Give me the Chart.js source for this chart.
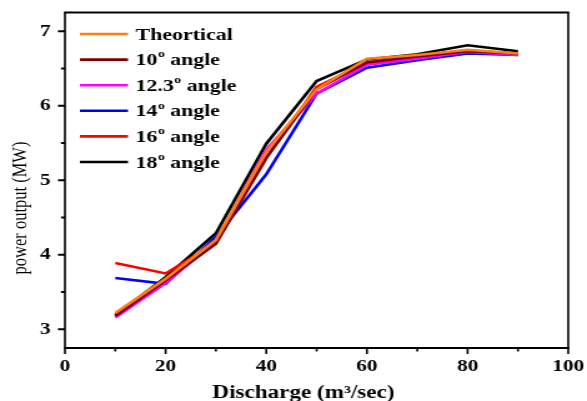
<!DOCTYPE html>
<html>
<head>
<meta charset="utf-8">
<script src="https://cdn.jsdelivr.net/npm/chart.js@4/dist/chart.umd.min.js"></script>
<style>
  html, body { margin: 0; padding: 0; background: #fff; overflow: hidden; }
  /* the figure is drawn on a narrower canvas and widened to 587px */
  #wrap { width: 470px; height: 401px; transform: scaleX(1.2489); transform-origin: 0 0; }
</style>
</head>
<body>
<div id="wrap"><canvas id="c" width="470" height="401"></canvas></div>
<script>
// Discharge values (m³/sec)
const discharge = [10, 20, 30, 40, 50, 60, 70, 80, 90];

// Power output (MW) for each blade angle
const theortical = [3.22, 3.68, 4.20, 5.38, 6.22, 6.63, 6.68, 6.75, 6.70];
const angle10    = [3.18, 3.66, 4.15, 5.30, 6.22, 6.58, 6.66, 6.73, 6.70];
const angle12_3  = [3.16, 3.62, 4.18, 5.41, 6.16, 6.55, 6.63, 6.72, 6.68];
const angle14    = [3.69, 3.61, 4.24, 5.08, 6.16, 6.51, 6.61, 6.70, 6.68];
const angle16    = [3.89, 3.75, 4.16, 5.30, 6.25, 6.58, 6.66, 6.74, 6.70];
const angle18    = [3.19, 3.70, 4.29, 5.49, 6.33, 6.62, 6.69, 6.81, 6.73];

const seriesLabels = ['Theortical', '10ᵒ angle', '12.3ᵒ angle', '14ᵒ angle', '16ᵒ angle', '18ᵒ angle'];
const seriesColors = ['#ff7f0e', '#800000', '#ff00ff', '#0000ff', '#ff0000', '#000000'];
const seriesValues = [theortical, angle10, angle12_3, angle14, angle16, angle18];

const xTicks = [0, 20, 40, 60, 80, 100];
const xMinorTicks = [10, 30, 50, 70, 90];
const yTicks = [3, 4, 5, 6, 7];
const yMinorTicks = [3.5, 4.5, 5.5, 6.5];

const xTitle = 'Discharge (m³/sec)';
const yTitle = 'power output (MW)';

const serif = '"Liberation Serif", "Times New Roman", serif';

const datasets = seriesValues.map((vals, i) => ({
  label: seriesLabels[i],
  data: discharge.map((x, j) => ({ x, y: vals[j] })),
  borderColor: seriesColors[i],
  backgroundColor: seriesColors[i],
  borderWidth: 2.6,
  pointRadius: 0,
  tension: 0,
  fill: false
}));

// draws "10ᵒ angle" with the ᵒ as a raised small o
function drawLabel(ctx, text, x, y) {
  const parts = text.split('ᵒ');
  let cx = x;
  parts.forEach((p, k) => {
    ctx.font = 'bold 17.5px ' + serif;
    ctx.fillText(p, cx, y);
    cx += ctx.measureText(p).width;
    if (k < parts.length - 1) {
      ctx.font = 'bold 11px ' + serif;
      ctx.fillText('o', cx + 0.3, y - 6);
      cx += ctx.measureText('o').width + 0.3;
    }
  });
}

// the plot box is placed by the layout padding alone
function fixAxis(size, key) {
  return s => {
    s[key] = size;
    s.paddingTop = s.paddingBottom = s.paddingLeft = s.paddingRight = 0;
  };
}

// Frame, tick marks, axis titles and in-plot legend
const framePlugin = {
  id: 'frame',
  afterDraw(chart) {
    const { ctx, chartArea: a, scales } = chart;
    ctx.save();
    ctx.strokeStyle = '#000';
    ctx.lineCap = 'butt';

    // box
    ctx.lineWidth = 2;
    ctx.beginPath();
    ctx.moveTo(a.left - 0.8, a.top); ctx.lineTo(a.right + 0.8, a.top);
    ctx.moveTo(a.left - 0.8, a.bottom); ctx.lineTo(a.right + 0.8, a.bottom);
    ctx.stroke();
    ctx.lineWidth = 1.6;
    ctx.beginPath();
    ctx.moveTo(a.left, a.top); ctx.lineTo(a.left, a.bottom);
    ctx.moveTo(a.right, a.top); ctx.lineTo(a.right, a.bottom);
    ctx.stroke();

    // x ticks
    ctx.lineWidth = 1.6;
    ctx.beginPath();
    xTicks.forEach(v => {
      const px = scales.x.getPixelForValue(v);
      ctx.moveTo(px, a.bottom); ctx.lineTo(px, a.bottom + 6);
    });
    xMinorTicks.forEach(v => {
      const px = scales.x.getPixelForValue(v);
      ctx.moveTo(px, a.bottom); ctx.lineTo(px, a.bottom + 3.5);
    });
    ctx.stroke();

    // y ticks
    ctx.lineWidth = 2;
    ctx.beginPath();
    yTicks.forEach(v => {
      const py = scales.y.getPixelForValue(v);
      ctx.moveTo(a.left, py); ctx.lineTo(a.left - 5.6, py);
    });
    yMinorTicks.forEach(v => {
      const py = scales.y.getPixelForValue(v);
      ctx.moveTo(a.left, py); ctx.lineTo(a.left - 3.2, py);
    });
    ctx.stroke();

    // axis titles
    ctx.fillStyle = '#000';
    ctx.textAlign = 'center';
    ctx.textBaseline = 'alphabetic';
    ctx.font = 'bold 18.5px ' + serif;
    ctx.fillText(xTitle, 243, 397.5);

    ctx.save();
    ctx.translate(21, 208);
    ctx.rotate(-Math.PI / 2);
    ctx.font = '16.5px ' + serif;
    ctx.fillText(yTitle, 0, 0);
    ctx.restore();

    // legend
    ctx.textAlign = 'left';
    ctx.textBaseline = 'middle';
    chart.data.datasets.forEach((ds, i) => {
      const y = a.top + 21.5 + i * 25.6;
      ctx.strokeStyle = ds.borderColor;
      ctx.lineWidth = 2.6;
      ctx.beginPath();
      ctx.moveTo(64, y);
      ctx.lineTo(102.5, y);
      ctx.stroke();
      ctx.fillStyle = '#000';
      drawLabel(ctx, ds.label, 108.6, y + 1);
    });
    ctx.restore();
  }
};

new Chart(document.getElementById('c'), {
  type: 'line',
  data: { datasets },
  plugins: [framePlugin],
  options: {
    responsive: false,
    animation: false,
    devicePixelRatio: 1,
    layout: { padding: { left: 0, right: 15, top: 12.5, bottom: 0 } },
    plugins: { legend: { display: false }, tooltip: { enabled: false } },
    scales: {
      x: {
        type: 'linear',
        min: 0, max: 100,
        afterBuildTicks: s => { s.ticks = xTicks.map(v => ({ value: v })); },
        afterFit: fixAxis(53, 'height'),
        grid: { display: false, drawTicks: false },
        border: { display: false },
        ticks: { color: '#000', font: { family: serif, size: 17, weight: 'bold' }, padding: 8, maxRotation: 0 }
      },
      y: {
        type: 'linear',
        min: 2.75, max: 7.25,
        afterBuildTicks: s => { s.ticks = yTicks.map(v => ({ value: v })); },
        afterFit: fixAxis(52, 'width'),
        grid: { display: false, drawTicks: false },
        border: { display: false },
        ticks: { color: '#000', font: { family: serif, size: 17, weight: 'bold' }, padding: 11.4 }
      }
    }
  }
});
</script>
</body>
</html>
